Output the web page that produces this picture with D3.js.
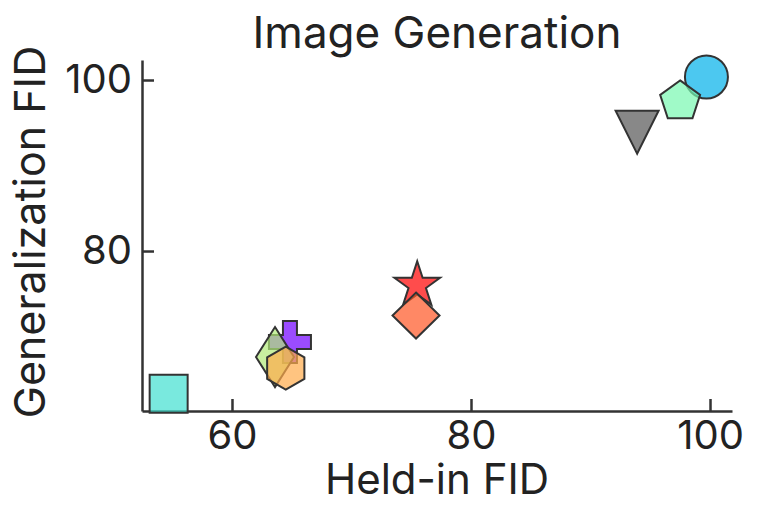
<!DOCTYPE html>
<html>
<head>
<meta charset="utf-8">
<script src="https://cdn.jsdelivr.net/npm/d3@7"></script>
<style>
  body { margin: 0; background: #fff; }
  svg text { font-family: Inter, "DejaVu Sans", sans-serif; fill: #222; }
</style>
</head>
<body>
<div id="chart"></div>
<script>
// Values (one entry per model)
var heldInFID = [54.7, 99.7, 97.5, 93.9, 75.5, 75.4, 64.85, 63.6, 64.5];
var generalizationFID = [63.3, 100.35, 97.5, 93.9, 76.0, 72.45, 69.35, 67.6, 66.3];
var xTicks = [60, 80, 100];
var yTicks = [80, 100];

// Marker style for each point, same order as the values above
var markerShapes = ["square", "circle", "pentagon", "triangleDown", "star", "diamond", "plus", "thinDiamond", "hexagon"];
var markerColors = ["#40e0d0", "#00b0ea", "#77f8b0", "#555555", "#ff0000", "#ff5524", "#7000ff", "#b1ea77", "#ffab4a"];

var W = 760, H = 523;

var svg = d3.select("#chart")
  .append("svg")
    .attr("width", W)
    .attr("height", H);

// scales
var x = d3.scaleLinear()
  .domain([52.47, 101.84])
  .range([142, 732]);

var y = d3.scaleLinear()
  .domain([61.29, 102.34])
  .range([411, 60]);

// Axes, ticks pointing inward
var xAxis = svg.append("g")
  .attr("transform", "translate(0,411)")
  .call(d3.axisBottom(x).tickValues(xTicks).tickSizeInner(-12).tickSizeOuter(0).tickPadding(9.5));

var yAxis = svg.append("g")
  .attr("transform", "translate(142,0)")
  .call(d3.axisLeft(y).tickValues(yTicks).tickSizeInner(-12).tickSizeOuter(0).tickPadding(10));

[xAxis, yAxis].forEach(function(a) {
  a.select(".domain").attr("stroke", "#333").attr("stroke-width", 2.5);
  a.selectAll(".tick line").attr("stroke", "#333").attr("stroke-width", 2.5);
  a.selectAll(".tick text")
    .attr("font-size", 40)
    .style("font-family", "Inter, 'DejaVu Sans', sans-serif")
    .attr("fill", "#222");
});

// marker paths
var line = d3.line().curve(d3.curveLinearClosed);

function ngon(n, R) {
  var pts = [];
  for (var i = 0; i < n; i++) {
    var a = i * 2 * Math.PI / n;
    pts.push([R * Math.sin(a), -R * Math.cos(a)]);
  }
  return pts;
}

function markerPath(shape) {
  if (shape === "circle") return d3.symbol(d3.symbolCircle, Math.PI * 21.5 * 21.5)();
  if (shape === "square") return line([[-19, -19], [19, -19], [19, 19], [-19, 19]]);
  if (shape === "pentagon") return line(ngon(5, 21));
  if (shape === "hexagon") return line(ngon(6, 21.5));
  if (shape === "triangleDown") return line([[0, 21.5], [-21.5, -21.5], [21.5, -21.5]]);
  if (shape === "diamond") return line([[0, -23], [23.5, 0], [0, 23], [-23.5, 0]]);
  if (shape === "thinDiamond") return line([[0, -30], [19, 0], [0, 30], [-19, 0]]);
  if (shape === "star") {
    var pts = [];
    for (var i = 0; i < 10; i++) {
      var r = i % 2 === 0 ? 24 : 24 * 0.382;
      var a = i * Math.PI / 5;
      pts.push([r * Math.sin(a), -r * Math.cos(a)]);
    }
    return line(pts);
  }
  if (shape === "plus") {
    var o = 21, s = 7;
    return line([[-s, -o], [s, -o], [s, -s], [o, -s], [o, s], [s, s], [s, o], [-s, o], [-s, s], [-o, s], [-o, -s], [-s, -s]]);
  }
}

var points = heldInFID.map(function(d, i) {
  return {x: d, y: generalizationFID[i], shape: markerShapes[i], color: markerColors[i]};
});

svg.append("g")
  .selectAll("path")
  .data(points)
  .join("path")
    .attr("transform", function(d) { return "translate(" + x(d.x) + "," + y(d.y) + ")"; })
    .attr("d", function(d) { return markerPath(d.shape); })
    .attr("fill", function(d) { return d.color; })
    .attr("fill-opacity", 0.7)
    .attr("stroke", "#333")
    .attr("stroke-width", 2);

// Title and axis labels
svg.append("text")
  .attr("x", 437)
  .attr("y", 48)
  .attr("text-anchor", "middle")
  .attr("font-size", 44)
  .text("Image Generation");

svg.append("text")
  .attr("x", 437)
  .attr("y", 494)
  .attr("text-anchor", "middle")
  .attr("font-size", 42)
  .text("Held-in FID");

svg.append("text")
  .attr("transform", "translate(45,232) rotate(-90)")
  .attr("text-anchor", "middle")
  .attr("font-size", 43)
  .text("Generalization FID");
</script>
</body>
</html>
